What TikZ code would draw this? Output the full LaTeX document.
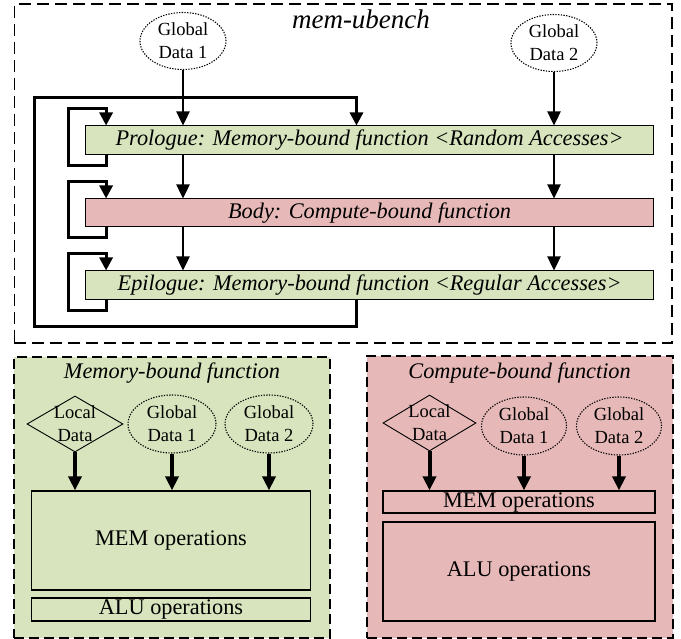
\documentclass[tikz,border=0pt]{standalone}
\usepackage{fontspec}
\setmainfont{Liberation Serif}
\usetikzlibrary{arrows.meta,shapes.geometric,calc}
\definecolor{lgreen}{RGB}{215,228,189}
\definecolor{lpink}{RGB}{230,185,184}
\begin{document}
\begin{tikzpicture}[x=1pt,y=-1pt,
  gd/.style={ellipse, draw, line width=1.1pt, dash pattern=on 1.3pt off 1.4pt, minimum width=86, minimum height=57, inner sep=0, align=center, font=\fontsize{18.5}{23}\selectfont},
  dia/.style={diamond, draw, line width=0.9pt, minimum width=96, minimum height=56, inner sep=0},
  dtext/.style={align=center, inner sep=0, font=\fontsize{18.5}{23}\selectfont},
  fb/.style={draw, line width=1pt, minimum width=568, inner sep=0, font=\fontsize{22.3}{26}\selectfont\itshape},
  ob/.style={draw, line width=1.2pt, inner sep=0, font=\fontsize{22.3}{26}\selectfont},
  frame/.style={draw, line width=1.5pt, dash pattern=on 12pt off 6pt, inner sep=0},
  panel/.style={draw, line width=1.5pt, dash pattern=on 10pt off 5pt, inner sep=0},
  ttl/.style={inner sep=0, font=\fontsize{22.3}{26}\selectfont\itshape},
  tarr/.style={line width=2.4pt, -{Triangle[width=13pt,length=14pt]}},
  loopa/.style={line width=3pt, -{Triangle[width=13pt,length=13pt]}},
  barr/.style={line width=4pt, -{Triangle[width=13pt,length=14pt]}}
]
\useasboundingbox (0,0) rectangle (681,639);
% top frame
\node[frame, minimum width=657.7, minimum height=339] (top) at (343.15,173.5) {};
\node[inner sep=0, font=\fontsize{27}{30}\selectfont\itshape] (title) at (361,19) {mem-ubench};
\node[gd] (g1) at (183,41) {Global\\Data 1};
\node[gd] (g2) at (554,43) {Global\\Data 2};
\node[fb, fill=lgreen, minimum height=29] (pro) at (369.6,140.5) {Prologue: Memory-bound function <Random Accesses>};
\node[fb, fill=lpink, minimum height=28] (bod) at (369.6,213) {Body: Compute-bound function};
\node[fb, fill=lgreen, minimum height=29] (epi) at (369.6,285.5) {Epilogue: Memory-bound function <Regular Accesses>};
\coordinate (bx) at (356.5,0);
\coordinate (bl) at (34,327);
\coordinate (tl) at (34,98);
% big loop
\draw[loopa] (epi.south -| bx) |- (bl) |- (bx |- tl) -- (pro.north -| bx);
% data arrows
\draw[tarr] (g1.south) -- (g1.south |- pro.north);
\draw[tarr] (g2.south) -- (g2.south |- pro.north);
\draw[tarr] (pro.south -| g1) -- (bod.north -| g1);
\draw[tarr] (pro.south -| g2) -- (bod.north -| g2);
\draw[tarr] (bod.south -| g1) -- (epi.north -| g1);
\draw[tarr] (bod.south -| g2) -- (epi.north -| g2);
% small loops
\foreach \b in {pro,bod,epi}{
  \draw[loopa] ($(\b.south west)+(21,0)$) -- ++(0,10) -- ++(-38,0) |- ($(\b.north west)+(21,-17)$) -- ($(\b.north west)+(21,0)$);
}
% bottom panels
\node[panel, fill=lgreen, minimum width=316, minimum height=281] (lp) at (172,497.5) {};
\node[panel, fill=lpink, minimum width=306, minimum height=282] (rp) at (520,497) {};
\node[ttl] (lt) at (172,373) {Memory-bound function};
\node[ttl] (rt) at (519.6,373) {Compute-bound function};
% left panel
\node[dia] (ld) at (75,424) {};
\node[dtext] (ldt) at (ld.center) {Local\\Data};
\node[gd, minimum width=88, minimum height=58] (lg1) at (172,424) {Global\\Data 1};
\node[gd, minimum width=88, minimum height=58] (lg2) at (269,424) {Global\\Data 2};
\node[ob, minimum width=279, minimum height=99] (lmem) at (171,540.5) {MEM operations};
\node[ob, minimum width=279, minimum height=23] (lalu) at (171,609.5) {ALU operations};
\draw[barr] (ld.south) -- (ld.south |- lmem.north);
\draw[barr] (lg1.south) -- (lg1.south |- lmem.north);
\draw[barr] (lg2.south) -- (lg2.south |- lmem.north);
% right panel
\node[dia, minimum width=93] (rd) at (429.5,423) {};
\node[dtext] (rdt) at (rd.center) {Local\\Data};
\node[gd, minimum width=85, minimum height=58] (rg1) at (524,426) {Global\\Data 1};
\node[gd, minimum width=85, minimum height=58] (rg2) at (619,426) {Global\\Data 2};
\node[ob, minimum width=272, minimum height=22] (rmem) at (519,502) {MEM operations};
\node[ob, minimum width=272, minimum height=99] (ralu) at (519,571.5) {ALU operations};
\draw[barr] (rd.south) -- (rd.south |- rmem.north);
\draw[barr] (rg1.south) -- (rg1.south |- rmem.north);
\draw[barr] (rg2.south) -- (rg2.south |- rmem.north);
\end{tikzpicture}
\end{document}
